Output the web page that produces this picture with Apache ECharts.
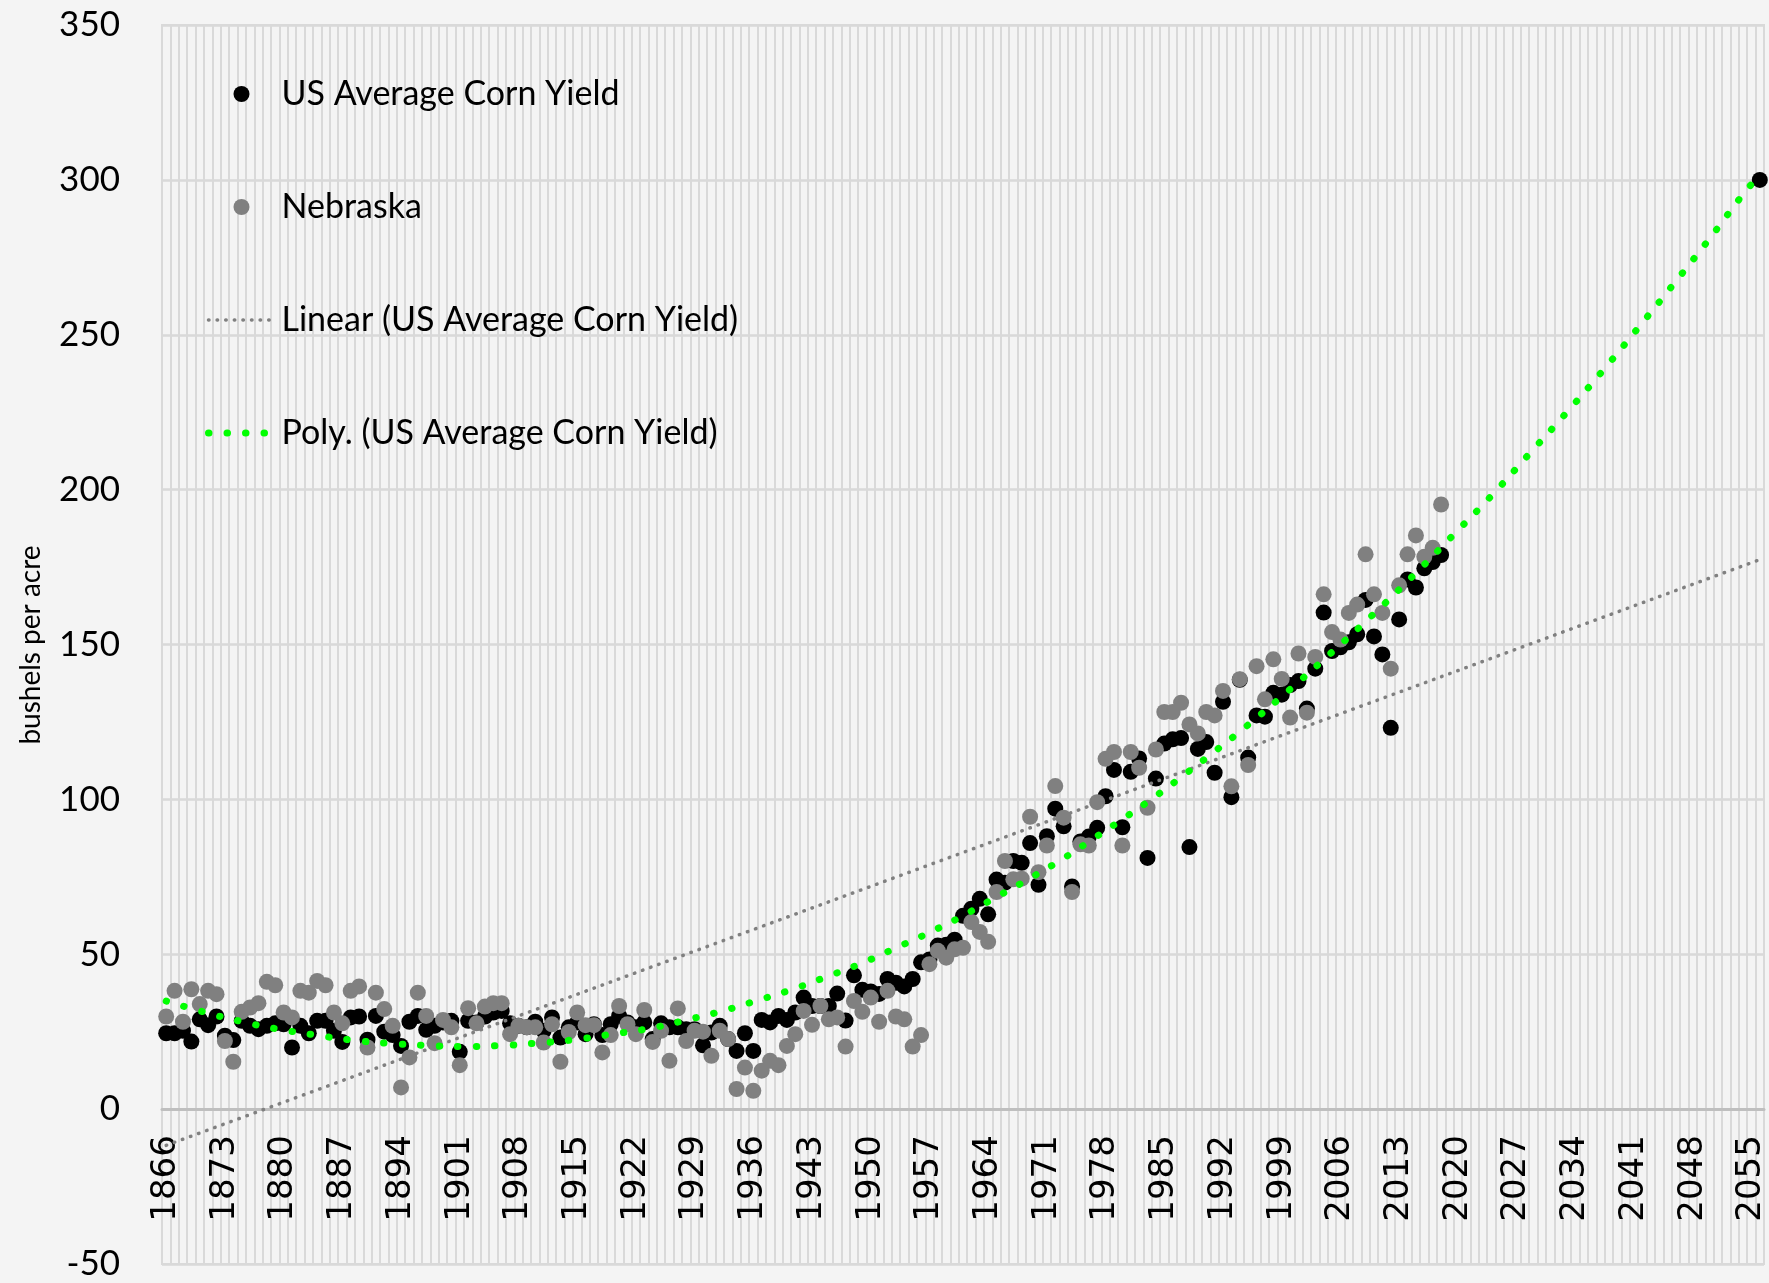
<!DOCTYPE html>
<html>
<head>
<meta charset="utf-8">
<title>US Average Corn Yield</title>
<script src="https://cdn.jsdelivr.net/npm/echarts@6/dist/echarts.min.js"></script>
<style>
  html, body { margin: 0; padding: 0; background: #f4f4f4; }
  #chart { width: 1769px; height: 1283px; }
</style>
</head>
<body>
<div id="chart"></div>
<script>
// ---------------- data ----------------
var firstYear = 1866;
var lastYear = 2056;

// US average corn yield, bushels per acre, 1866 - 2018
var usYield = [
  24.5, 24.5, 25.3, 21.8, 29.0, 27.1, 29.9, 23.7, 22.3, 28.5,   // 1866-1875
  26.9, 25.8, 26.9, 27.7, 27.4, 19.9, 26.9, 24.5, 28.5, 28.5,   // 1876-1885
  25.3, 21.7, 29.6, 29.9, 22.4, 30.1, 25.0, 23.9, 20.4, 28.2,   // 1886-1895
  30.1, 25.6, 26.9, 28.0, 28.5, 18.5, 28.5, 28.0, 29.9, 31.2,   // 1896-1905
  31.7, 27.7, 26.9, 26.4, 28.2, 25.3, 29.6, 23.1, 26.4, 28.0,   // 1906-1915
  24.2, 27.4, 23.9, 27.4, 30.1, 28.0, 26.4, 28.0, 22.6, 27.7,   // 1916-1925
  26.4, 26.4, 25.8, 25.8, 20.6, 24.7, 26.9, 22.6, 18.8, 24.5,   // 1926-1935
  18.8, 28.8, 28.0, 30.1, 28.8, 31.2, 36.0, 33.3, 33.3, 33.3,   // 1936-1945
  37.3, 28.6, 43.2, 38.5, 38.0, 37.2, 42.0, 40.8, 39.6, 42.0,   // 1946-1955
  47.4, 48.3, 52.8, 53.1, 54.7, 62.4, 64.7, 67.9, 62.9, 74.1,   // 1956-1965
  73.1, 80.1, 79.5, 85.9, 72.4, 88.1, 97.0, 91.3, 71.9, 86.4,   // 1966-1975
  88.0, 90.8, 101.0, 109.5, 91.0, 108.9, 113.2, 81.1, 106.7, 118.0,   // 1976-1985
  119.4, 119.8, 84.6, 116.3, 118.5, 108.6, 131.5, 100.7, 138.6, 113.5, // 1986-1995
  127.1, 126.7, 134.4, 133.8, 136.9, 138.2, 129.3, 142.2, 160.3, 147.9, // 1996-2005
  149.1, 150.7, 153.3, 164.4, 152.6, 146.8, 123.1, 158.1, 171.0, 168.4, // 2006-2015
  174.6, 176.6, 178.9                                                    // 2016-2018
];

// single projected point
var projYear = 2056;
var projYield = 300;

// Nebraska corn yield, bushels per acre, 1866 - 2018
var nebraskaYield = [
  29.9, 38.2, 28.2, 38.7, 33.9, 38.2, 37.1, 22.0, 15.3, 31.4,   // 1866-1875
  32.8, 34.2, 41.1, 40.0, 31.2, 29.6, 38.2, 37.6, 41.4, 40.0,   // 1876-1885
  31.2, 27.7, 38.2, 39.6, 19.9, 37.6, 32.3, 26.9, 7.0, 16.7,    // 1886-1895
  37.6, 30.1, 21.3, 28.8, 26.4, 14.2, 32.6, 27.7, 33.1, 34.2,   // 1896-1905
  34.2, 24.2, 26.9, 26.4, 26.4, 21.5, 27.4, 15.3, 24.9, 31.2,   // 1906-1915
  27.1, 27.1, 18.3, 23.9, 33.3, 27.4, 24.2, 32.0, 21.7, 25.3,   // 1916-1925
  15.6, 32.5, 22.0, 25.3, 25.0, 17.2, 25.3, 22.6, 6.5, 13.4,    // 1926-1935
  5.9, 12.4, 15.6, 14.2, 20.4, 24.2, 31.7, 27.2, 33.3, 29.0,    // 1936-1945
  29.6, 20.2, 34.9, 31.4, 36.0, 28.2, 38.2, 29.9, 29.0, 20.2,   // 1946-1955
  23.9, 46.8, 51.1, 48.9, 51.6, 52.1, 60.4, 57.2, 54.0, 70.1,   // 1956-1965
  80.1, 74.2, 74.4, 94.4, 76.5, 85.1, 104.3, 94.1, 70.1, 85.5,  // 1966-1975
  85.1, 99.1, 113.1, 115.3, 85.1, 115.3, 110.2, 97.3, 116.1, 128.2,    // 1976-1985
  128.2, 131.2, 124.2, 121.3, 128.2, 127.1, 135.0, 104.2, 138.8, 111.1, // 1986-1995
  143.0, 132.3, 145.2, 138.9, 126.4, 147.1, 128.0, 146.0, 166.2, 154.0, // 1996-2005
  151.6, 160.2, 162.9, 179.1, 166.2, 160.2, 142.2, 169.1, 179.1, 185.2, // 2006-2015
  178.3, 181.2, 195.2                                                    // 2016-2018
];

// trend lines: [year, value]
var linearTrend = [[1866, -11.7], [2056, 177.4]];
var polyTrend = [
  [1866, 34.9], [1870.3, 31.5], [1874.6, 28.5], [1879, 26.0], [1883.4, 24.1],
  [1887.8, 22.4], [1892.3, 21.3], [1896.7, 20.6], [1901.2, 20.2], [1905.7, 20.5],
  [1910.2, 21.3], [1914.6, 22.4], [1919.1, 24.2], [1923.5, 26.0], [1927.9, 28.7],
  [1932.2, 31.6], [1936.5, 35.1], [1940.8, 38.8], [1945, 43.0], [1949.1, 47.3],
  [1953.2, 52.3], [1957.3, 57.4], [1961.3, 62.9], [1965.2, 68.8], [1969.1, 74.7],
  [1973, 81.0], [1976.7, 87.6], [1980.4, 94.3], [1984.1, 101.3], [1987.7, 108.6],
  [1991.2, 115.9], [1994.7, 123.4], [1999.9, 135.3], [2004.9, 147.3], [2009.9, 159.7],
  [2014.7, 172.3], [2019.4, 185.2], [2024.1, 198.3], [2028.6, 211.8], [2033.1, 225.3],
  [2037.5, 239.1], [2041.8, 253.2], [2046, 267.3], [2050.2, 281.7], [2054.2, 296.0],
  [2056, 301.5]
];

// y axis ticks
var yMin = -50, yMax = 350, yStep = 50;

// ---------------- build ----------------
var years = [];
for (var y = firstYear; y <= lastYear; y++) {
  years.push(String(y));
}

// put a series on the year categories, '-' where no value
var onYears = function(values, extraYear, extraValue) {
  var out = [];
  for (var i = 0; i < years.length; i++) {
    var yr = firstYear + i;
    if (i < values.length) {
      out.push(values[i]);
    } else if (yr === extraYear) {
      out.push(extraValue);
    } else {
      out.push('-');
    }
  }
  return out;
};

var textFont = 'Lato, "Open Sans", sans-serif';

// dotted styles of the two trend lines
var linearStyle = { color: '#808080', width: 3.5, type: [0.5, 8.1], cap: 'round', opacity: 1 };
var polyStyle = { color: '#00ff00', width: 7, type: [0.5, 18], cap: 'round', opacity: 1 };

// grid box in pixels
var gridTop = 25, gridBottom = 19;
var plotHeight = 1283 - gridTop - gridBottom;
// category axis sits on the zero line, not at the bottom
var zeroOffset = -plotHeight * (0 - yMin) / (yMax - yMin);

var option = {
  backgroundColor: '#f4f4f4',
  animation: false,
  grid: {
    left: 162,
    right: 5,
    top: gridTop,
    bottom: gridBottom,
    containLabel: false,
    outerBoundsMode: 'none',
    show: true,
    borderColor: '#d9d9d9',
    borderWidth: 2,
    backgroundColor: 'transparent'
  },
  legend: {
    orient: 'vertical',
    left: 205,
    top: 74,
    padding: 0,
    itemWidth: 66,
    itemHeight: 16,
    itemGap: 73,
    selectedMode: false,
    textStyle: {
      fontFamily: textFont,
      fontSize: 34,
      color: '#000',
      lineHeight: 40,
      padding: [0, 0, 0, 2]
    },
    data: [
      'US Average Corn Yield',
      'Nebraska',
      { name: 'Linear (US Average Corn Yield)', itemStyle: { opacity: 0 }, lineStyle: linearStyle },
      { name: 'Poly. (US Average Corn Yield)', itemStyle: { opacity: 0 }, lineStyle: polyStyle }
    ]
  },
  xAxis: [
    {
      type: 'category',
      data: years,
      position: 'bottom',
      offset: zeroOffset,
      boundaryGap: true,
      axisLine: { onZero: false, lineStyle: { color: '#bfbfbf', width: 3 } },
      axisTick: { show: false },
      axisLabel: {
        interval: 6,
        rotate: 90,
        margin: 26,
        fontFamily: '"DejaVu Sans", Verdana, sans-serif',
        fontSize: 34,
        color: '#000'
      },
      splitLine: { show: true, interval: 0, lineStyle: { color: '#d9d9d9', width: 2 } }
    },
    {
      // hidden value axis for the trend lines, lined up with the year categories
      type: 'value',
      min: firstYear - 0.5,
      max: lastYear + 0.5,
      show: false
    }
  ],
  yAxis: {
    type: 'value',
    min: yMin,
    max: yMax,
    interval: yStep,
    axisLine: { show: false },
    axisTick: { show: false },
    axisLabel: {
      margin: 42,
      fontFamily: textFont,
      fontSize: 35,
      color: '#000'
    },
    splitLine: { lineStyle: { color: '#d9d9d9', width: 2.5 } }
  },
  graphic: [
    {
      type: 'text',
      x: 31,
      y: 645,
      rotation: Math.PI / 2,
      style: {
        text: 'bushels per acre',
        fill: '#000',
        font: '28px Lato, "Open Sans", sans-serif',
        align: 'center',
        verticalAlign: 'middle'
      }
    }
  ],
  series: [
    {
      name: 'US Average Corn Yield',
      type: 'scatter',
      symbol: 'circle',
      symbolSize: 16,
      itemStyle: { color: '#000000', opacity: 1 },
      data: onYears(usYield, projYear, projYield)
    },
    {
      name: 'Nebraska',
      type: 'scatter',
      symbol: 'circle',
      symbolSize: 16,
      itemStyle: { color: '#808080', opacity: 1 },
      data: onYears(nebraskaYield)
    },
    {
      name: 'Linear (US Average Corn Yield)',
      type: 'line',
      xAxisIndex: 1,
      symbol: 'none',
      itemStyle: { color: '#808080' },
      lineStyle: linearStyle,
      data: linearTrend
    },
    {
      name: 'Poly. (US Average Corn Yield)',
      type: 'line',
      xAxisIndex: 1,
      symbol: 'none',
      smooth: true,
      itemStyle: { color: '#00ff00' },
      lineStyle: polyStyle,
      data: polyTrend
    }
  ]
};

var myChart = echarts.init(document.getElementById('chart'));
myChart.setOption(option);
</script>
</body>
</html>
